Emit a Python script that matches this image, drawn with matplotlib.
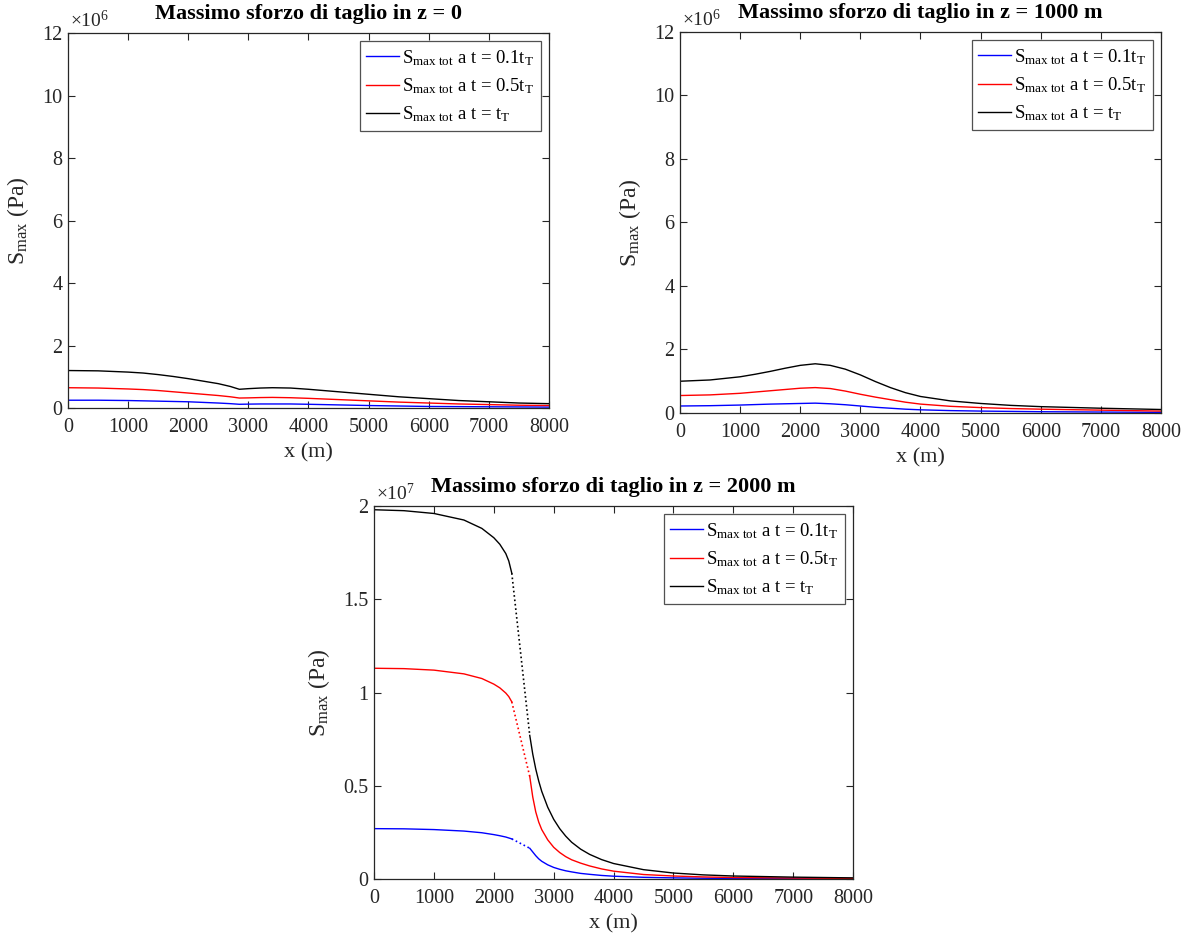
import matplotlib
matplotlib.use("Agg")
import matplotlib.pyplot as plt
from matplotlib.ticker import FuncFormatter

plt.rcParams['font.family'] = ['Liberation Serif', 'DejaVu Serif']
plt.rcParams['mathtext.fontset'] = 'custom'
plt.rcParams['mathtext.rm'] = 'Liberation Serif'
plt.rcParams['mathtext.it'] = 'Liberation Serif:italic'

# z = 0
x0 = [0, 500, 1000, 1250, 1500, 1750, 2000, 2250, 2500, 2700, 2850, 3000, 3200, 3400, 3700, 4000, 4500, 5000, 5500, 6000, 6500, 7000, 7500, 8000]
s0_01 = [0.25e6, 0.25e6, 0.24e6, 0.23e6, 0.22e6, 0.21e6, 0.20e6, 0.18e6, 0.16e6, 0.14e6, 0.12e6, 0.125e6, 0.13e6, 0.13e6, 0.13e6, 0.12e6, 0.10e6, 0.08e6, 0.065e6, 0.05e6, 0.045e6, 0.04e6, 0.035e6, 0.03e6]
s0_05 = [0.65e6, 0.64e6, 0.61e6, 0.59e6, 0.56e6, 0.52e6, 0.48e6, 0.44e6, 0.40e6, 0.36e6, 0.32e6, 0.325e6, 0.335e6, 0.34e6, 0.33e6, 0.31e6, 0.27e6, 0.23e6, 0.19e6, 0.16e6, 0.13e6, 0.11e6, 0.09e6, 0.08e6]
s0_10 = [1.20e6, 1.19e6, 1.15e6, 1.12e6, 1.07e6, 1.01e6, 0.94e6, 0.86e6, 0.78e6, 0.69e6, 0.60e6, 0.62e6, 0.64e6, 0.65e6, 0.64e6, 0.60e6, 0.52e6, 0.44e6, 0.36e6, 0.30e6, 0.24e6, 0.20e6, 0.16e6, 0.14e6]

# z = 1000 m
x1 = [0, 500, 1000, 1250, 1500, 1750, 2000, 2250, 2500, 2750, 3000, 3250, 3500, 3750, 4000, 4500, 5000, 5500, 6000, 7000, 8000]
s1_01 = [0.22e6, 0.23e6, 0.25e6, 0.265e6, 0.28e6, 0.29e6, 0.30e6, 0.31e6, 0.29e6, 0.26e6, 0.22e6, 0.18e6, 0.15e6, 0.12e6, 0.10e6, 0.075e6, 0.06e6, 0.05e6, 0.04e6, 0.03e6, 0.02e6]
s1_05 = [0.55e6, 0.57e6, 0.62e6, 0.66e6, 0.70e6, 0.74e6, 0.78e6, 0.80e6, 0.77e6, 0.69e6, 0.59e6, 0.50e6, 0.42e6, 0.34e6, 0.28e6, 0.21e6, 0.17e6, 0.14e6, 0.12e6, 0.09e6, 0.06e6]
s1_10 = [1.00e6, 1.04e6, 1.14e6, 1.22e6, 1.31e6, 1.41e6, 1.50e6, 1.55e6, 1.50e6, 1.38e6, 1.20e6, 0.99e6, 0.80e6, 0.64e6, 0.52e6, 0.38e6, 0.30e6, 0.24e6, 0.20e6, 0.15e6, 0.11e6]

# z = 2000 m: continuous branches left and right of the gap, dotted across it
x2a = [0, 500, 1000, 1500, 1800, 2000, 2100, 2200, 2250, 2300]
s2a_01 = [0.270e7, 0.269e7, 0.265e7, 0.257e7, 0.248e7, 0.238e7, 0.232e7, 0.225e7, 0.220e7, 0.215e7]
s2a_05 = [1.130e7, 1.128e7, 1.120e7, 1.100e7, 1.075e7, 1.045e7, 1.025e7, 0.997e7, 0.978e7, 0.950e7]
s2a_10 = [1.980e7, 1.975e7, 1.960e7, 1.925e7, 1.880e7, 1.830e7, 1.795e7, 1.745e7, 1.705e7, 1.640e7]
x2b = [2600, 2650, 2700, 2750, 2800, 2900, 3000, 3100, 3200, 3300, 3450, 3600, 3800, 4000, 4500, 5000, 5500, 6000, 7000, 8000]
s2b_01 = [0.165e7, 0.145e7, 0.125e7, 0.108e7, 0.095e7, 0.076e7, 0.062e7, 0.052e7, 0.044e7, 0.038e7, 0.030e7, 0.025e7, 0.019e7, 0.015e7, 0.009e7, 0.006e7, 0.004e7, 0.003e7, 0.002e7, 0.001e7]
s2b_05 = [0.550e7, 0.440e7, 0.360e7, 0.305e7, 0.265e7, 0.210e7, 0.170e7, 0.142e7, 0.120e7, 0.103e7, 0.085e7, 0.070e7, 0.054e7, 0.042e7, 0.024e7, 0.016e7, 0.011e7, 0.008e7, 0.005e7, 0.003e7]
s2b_10 = [0.770e7, 0.670e7, 0.590e7, 0.525e7, 0.470e7, 0.385e7, 0.320e7, 0.270e7, 0.230e7, 0.197e7, 0.160e7, 0.132e7, 0.104e7, 0.083e7, 0.050e7, 0.032e7, 0.022e7, 0.016e7, 0.010e7, 0.006e7]

labels = [r'S$_{\mathrm{max\ tot}}$ a t = 0.1t$_{\mathrm{T}}$',
          r'S$_{\mathrm{max\ tot}}$ a t = 0.5t$_{\mathrm{T}}$',
          r'S$_{\mathrm{max\ tot}}$ a t = t$_{\mathrm{T}}$']
colors = ['#0000ff', '#ff0000', '#000000']
INK = '#262626'

fig = plt.figure(figsize=(11.89, 9.35), dpi=100)
fig.patch.set_facecolor('white')


def style_axes(ax, ymax, yticks, exp, title):
    ax.set_xlim(0, 8000)
    ax.set_ylim(0, ymax)
    ax.set_xticks(range(0, 8001, 1000))
    ax.set_yticks(yticks)
    ax.yaxis.set_major_formatter(FuncFormatter(lambda v, p: '%g' % (v / 10 ** exp)))
    ax.tick_params(direction='in', top=True, right=True, length=5, width=0.8,
                   labelsize=14.5, colors=INK)
    ax.tick_params(axis='x', pad=7)
    ax.tick_params(axis='y', pad=4)
    for s in ax.spines.values():
        s.set_color(INK)
        s.set_linewidth(0.9)
    ax.text(0.004, 1.006, r'$\times10^{%d}$' % exp, transform=ax.transAxes,
            fontsize=14, color=INK, ha='left', va='bottom')
    ax.set_title(title, fontsize=16, fontweight='bold', pad=10)
    ax.set_xlabel('x (m)', fontsize=16, color=INK, labelpad=5)
    ax.set_ylabel(r'S$_{\mathrm{max}}$ (Pa)', fontsize=17, color=INK, labelpad=8)
    leg = ax.legend(loc='upper right', fontsize=13.5, frameon=True, fancybox=False,
                    borderaxespad=0.45, handlelength=1.75, handletextpad=0.15,
                    labelspacing=0.45, borderpad=0.35)
    leg.get_frame().set_edgecolor(INK)
    leg.get_frame().set_linewidth(0.9)


ax1 = fig.add_axes([0.0572, 0.5636, 0.4045, 0.4011])
for ys, c, lb in zip([s0_01, s0_05, s0_10], colors, labels):
    ax1.plot(x0, ys, color=c, lw=1.0, label=lb)
style_axes(ax1, 12e6, [0, 2e6, 4e6, 6e6, 8e6, 10e6, 12e6], 6, 'Massimo sforzo di taglio in z = 0')

ax2 = fig.add_axes([0.5719, 0.5583, 0.4045, 0.4075])
for ys, c, lb in zip([s1_01, s1_05, s1_10], colors, labels):
    ax2.plot(x1, ys, color=c, lw=1.0, label=lb)
style_axes(ax2, 12e6, [0, 2e6, 4e6, 6e6, 8e6, 10e6, 12e6], 6, 'Massimo sforzo di taglio in z = 1000 m')

ax3 = fig.add_axes([0.3146, 0.0599, 0.4029, 0.3989])
for ya, yb, c, lb in zip([s2a_01, s2a_05, s2a_10], [s2b_01, s2b_05, s2b_10], colors, labels):
    ax3.plot(x2a, ya, color=c, lw=1.0, label=lb)
    ax3.plot([x2a[-1], x2b[0]], [ya[-1], yb[0]], color=c, lw=1.2, ls=':')
    ax3.plot(x2b, yb, color=c, lw=1.0)
style_axes(ax3, 2e7, [0, 0.5e7, 1e7, 1.5e7, 2e7], 7, 'Massimo sforzo di taglio in z = 2000 m')

fig.savefig('out.png', dpi=100, facecolor='white')
